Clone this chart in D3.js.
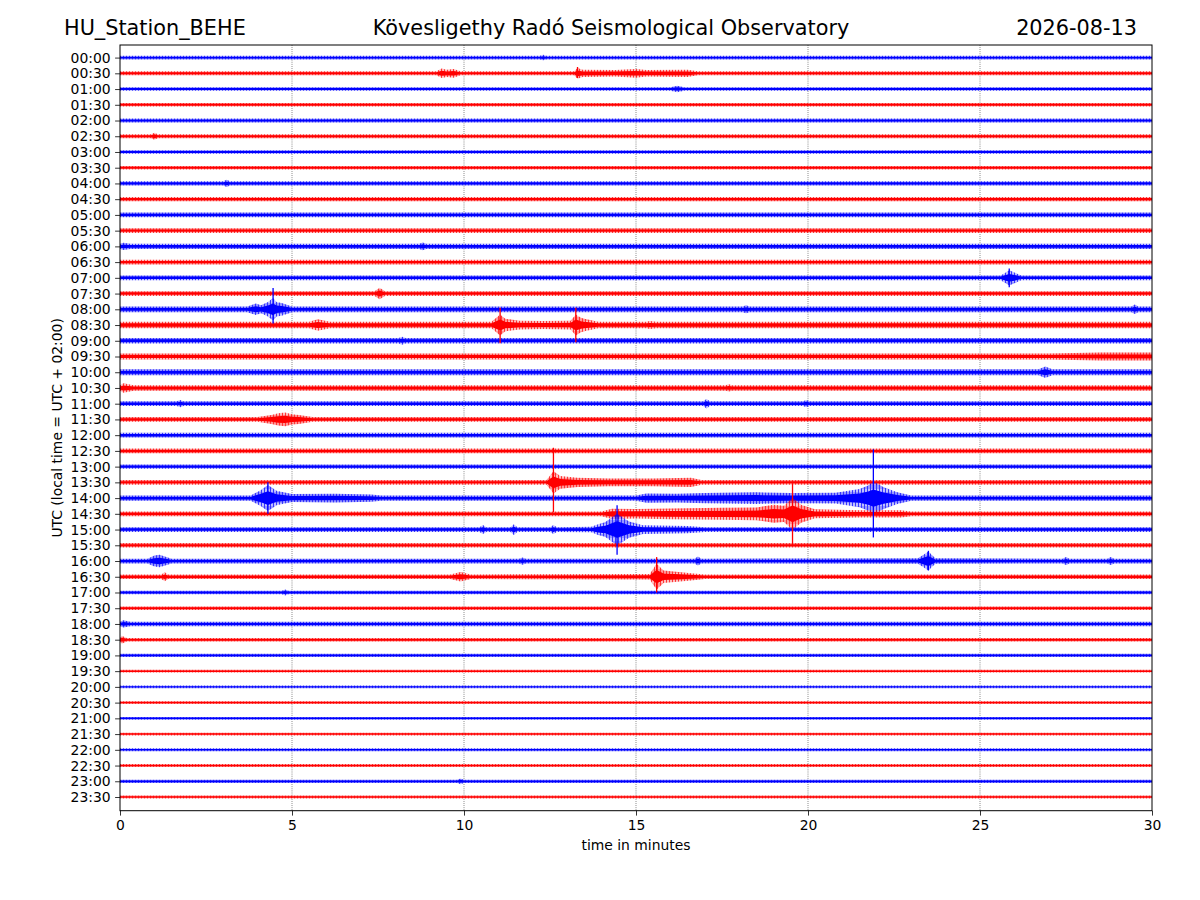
<!DOCTYPE html>
<html>
<head>
<meta charset="utf-8">
<script src="https://cdn.jsdelivr.net/npm/d3@7"></script>
<style>
  body { margin: 0; background: #fff; }
  svg { display: block; font-family: "DejaVu Sans", sans-serif; }
</style>
</head>
<body>
<div class="chart"></div>
<script>
// data
const rowLabels = [
  "00:00","00:30","01:00","01:30","02:00","02:30","03:00","03:30",
  "04:00","04:30","05:00","05:30","06:00","06:30","07:00","07:30",
  "08:00","08:30","09:00","09:30","10:00","10:30","11:00","11:30",
  "12:00","12:30","13:00","13:30","14:00","14:30","15:00","15:30",
  "16:00","16:30","17:00","17:30","18:00","18:30","19:00","19:30",
  "20:00","20:30","21:00","21:30","22:00","22:30","23:00","23:30"
];
const rowColors = ["#0000ff", "#ff0000"];
const xTicks = [0, 5, 10, 15, 20, 25, 30];

// background noise half-amplitude of each row (in row spacings)
const noiseLevel = [
  0.10, 0.11, 0.10, 0.10, 0.11, 0.11, 0.10, 0.10,
  0.12, 0.12, 0.13, 0.13, 0.15, 0.13, 0.13, 0.13,
  0.16, 0.18, 0.15, 0.16, 0.16, 0.15, 0.13, 0.13,
  0.13, 0.13, 0.12, 0.13, 0.15, 0.13, 0.13, 0.12,
  0.13, 0.13, 0.10, 0.10, 0.12, 0.10, 0.09, 0.08,
  0.07, 0.08, 0.08, 0.08, 0.08, 0.08, 0.09, 0.08
];

// envelope points of events: [row, minute, half-amplitude]
const events = [
  [0,12.2,.10],[0,12.3,.15],[0,12.4,.10],
  [1,9.2,.11],[1,9.35,.26],[1,9.5,.2],[1,9.7,.24],[1,9.9,.11],[1,13.2,.11],[1,13.3,.30],[1,13.45,.2],[1,14.4,.18],[1,15.0,.24],[1,15.3,.18],[1,16.5,.2],[1,16.8,.11],
  [2,16.0,.10],[2,16.2,.18],[2,16.4,.10],
  [5,0.9,.11],[5,1.0,.2],[5,1.1,.11],
  [8,3.0,.12],[8,3.1,.2],[8,3.2,.12],
  [12,0.1,.2],[12,0.3,.15],[12,8.7,.15],[12,8.8,.22],[12,8.9,.15],
  [14,25.6,.13],[14,25.75,.3],[14,25.85,.42],[14,26.0,.3],[14,26.2,.13],
  [15,7.4,.13],[15,7.55,.32],[15,7.7,.13],
  [16,3.7,.16],[16,3.95,.32],[16,4.1,.22],[16,4.3,.4],[16,4.45,.62],[16,4.55,.4],[16,4.7,.35],[16,5.0,.16],[16,18.1,.16],[16,18.2,.22],[16,18.3,.16],[16,29.4,.16],[16,29.5,.26],[16,29.6,.16],
  [17,5.5,.18],[17,5.75,.32],[17,6.1,.18],[17,10.8,.18],[17,11.05,.58],[17,11.2,.35],[17,11.6,.24],[17,12.3,.22],[17,13.1,.24],[17,13.25,.58],[17,13.4,.4],[17,13.5,.35],[17,13.9,.18],[17,15.3,.18],[17,15.4,.22],[17,15.6,.18],
  [18,8.1,.15],[18,8.2,.22],[18,8.3,.15],
  [19,27.0,.16],[19,28.5,.22],[19,30.0,.22],
  [20,26.7,.16],[20,26.9,.32],[20,27.1,.16],
  [21,0.1,.26],[21,0.4,.15],[21,17.6,.15],[21,17.7,.2],[21,17.8,.15],
  [22,1.65,.13],[22,1.75,.2],[22,1.85,.13],[22,16.95,.13],[22,17.05,.26],[22,17.15,.13],[22,19.85,.13],[22,19.95,.2],[22,20.05,.13],
  [23,4.0,.13],[23,4.4,.25],[23,4.6,.34],[23,4.8,.38],[23,5.0,.28],[23,5.2,.25],[23,5.6,.13],
  [27,12.4,.13],[27,12.6,.62],[27,12.8,.35],[27,13.3,.25],[27,14.2,.22],[27,15.5,.22],[27,16.6,.26],[27,16.9,.13],
  [28,3.8,.15],[28,4.1,.45],[28,4.3,.72],[28,4.55,.4],[28,5.0,.22],[28,6.25,.24],[28,7.3,.2],[28,7.6,.15],[28,15.0,.15],[28,15.3,.26],[28,16.2,.24],[28,17.0,.28],[28,18.5,.32],[28,19.5,.28],[28,20.8,.3],[28,21.5,.5],[28,21.75,.7],[28,21.9,.92],[28,22.2,.6],[28,22.6,.32],[28,23.0,.15],
  [29,14.0,.13],[29,14.3,.28],[29,15.0,.26],[29,16.0,.3],[29,17.5,.33],[29,18.5,.35],[29,19.0,.5],[29,19.3,.45],[29,19.55,.88],[29,19.8,.5],[29,20.2,.25],[29,21.5,.2],[29,22.7,.2],[29,23.0,.13],
  [30,10.45,.13],[30,10.55,.25],[30,10.65,.13],[30,11.35,.13],[30,11.45,.3],[30,11.55,.13],[30,12.5,.13],[30,12.6,.25],[30,12.7,.13],[30,13.7,.15],[30,13.9,.3],[30,14.1,.4],[30,14.45,.88],[30,14.8,.45],[30,15.2,.24],[30,16.5,.2],[30,17.0,.13],
  [32,0.8,.13],[32,1.0,.3],[32,1.15,.35],[32,1.5,.13],[32,11.6,.13],[32,11.7,.2],[32,11.8,.13],[32,16.7,.13],[32,16.8,.25],[32,16.9,.13],[32,23.2,.15],[32,23.5,.52],[32,23.7,.15],[32,27.4,.13],[32,27.5,.22],[32,27.6,.13],[32,28.7,.13],[32,28.8,.22],[32,28.9,.13],
  [33,1.2,.13],[33,1.3,.25],[33,1.4,.13],[33,9.6,.13],[33,9.9,.26],[33,10.2,.13],[33,15.4,.15],[33,15.6,.72],[33,15.8,.35],[33,16.6,.2],[33,17.0,.13],
  [34,4.7,.10],[34,4.8,.16],[34,4.9,.10],
  [36,0.1,.2],[36,0.3,.12],
  [37,0.05,.22],[37,0.2,.10],
  [46,9.8,.09],[46,9.9,.16],[46,10.0,.09]
];

// single sharp peaks: [row, minute, reach up, reach down] (row spacings)
const spikes = [
  [1,13.3,.4,.3],
  [14,25.85,.6,.6],
  [16,4.45,1.35,.9],
  [17,11.05,1.1,1.15],[17,13.25,1.1,1.1],
  [27,12.6,2.2,1.9],
  [28,4.3,1.0,1.0],[28,21.9,3.1,2.5],
  [29,19.55,1.95,2.0],
  [30,14.45,1.55,1.6],
  [32,23.5,.65,.6],
  [33,15.6,1.25,1.0]
];

// setup
const width = 1200;
const height = 900;
const margin = { top: 45, bottom: 89.3, left: 120, right: 48 };

const svg = d3.select('.chart')
  .append('svg')
  .attr('width', width)
  .attr('height', height)
  .attr('viewBox', `0 0 ${width} ${height}`);

const x = d3.scaleLinear()
  .domain([0, 30])
  .range([margin.left, width - margin.right]);

const y = d3.scaleLinear()
  .domain([-0.8, 47.87])
  .range([margin.top, height - margin.bottom]);

const defs = svg.append('defs');
defs.append('clipPath').attr('id', 'plot-clip')
  .append('rect')
  .attr('x', margin.left).attr('y', margin.top)
  .attr('width', x(30) - x(0)).attr('height', y(47.87) - y(-0.8));

// hatch patterns give the bands a wiggly trace texture
rowColors.forEach((c, i) => {
  const p = defs.append('pattern')
    .attr('id', `hatch${i}`)
    .attr('patternUnits', 'userSpaceOnUse')
    .attr('width', 3).attr('height', 7);
  p.append('rect').attr('width', 3).attr('height', 7).attr('fill', c).attr('opacity', 0.25);
  p.append('line').attr('x1', 0.5).attr('x2', 0.5).attr('y1', 0).attr('y2', 7)
    .attr('stroke', c).attr('stroke-width', 0.9).attr('opacity', 0.8);
  p.append('line').attr('x1', 2).attr('x2', 2).attr('y1', 2).attr('y2', 6)
    .attr('stroke', c).attr('stroke-width', 0.7).attr('opacity', 0.6);
});

// grid
svg.append('g')
  .selectAll('line')
  .data(xTicks.slice(1, -1))
  .join('line')
  .attr('x1', d => x(d)).attr('x2', d => x(d))
  .attr('y1', y(-0.8)).attr('y2', y(47.87))
  .attr('stroke', '#000')
  .attr('stroke-width', 0.8)
  .attr('stroke-dasharray', '0.8,1.3')
  .attr('opacity', 0.7);

// envelopes
const byRow = d3.group(events, d => d[0]);
const rows = rowLabels.map((label, i) => {
  const pts = (byRow.get(i) || []).map(d => [d[1], d[2]]).sort((a, b) => a[0] - b[0]);
  const env = [[0, noiseLevel[i]], ...pts];
  if (env[env.length - 1][0] < 30) env.push([30, noiseLevel[i]]);
  return { i, env };
});

const traces = svg.append('g').attr('clip-path', 'url(#plot-clip)');

traces.selectAll('g.trace')
  .data(rows)
  .join('g')
  .attr('class', 'trace')
  .each(function (r) {
    const g = d3.select(this);
    const color = rowColors[r.i % 2];
    [[1.15, `url(#hatch${r.i % 2})`], [0.6, color]].forEach(([k, fill]) => {
      g.append('path')
        .datum(r.env)
        .attr('fill', fill)
        .attr('d', d3.area()
          .x(d => x(d[0]))
          .y0(d => y(r.i + d[1] * k))
          .y1(d => y(r.i - d[1] * k)));
    });
  });

traces.selectAll('line.spike')
  .data(spikes)
  .join('line')
  .attr('class', 'spike')
  .attr('x1', d => x(d[1])).attr('x2', d => x(d[1]))
  .attr('y1', d => y(d[0] - d[2])).attr('y2', d => y(d[0] + d[3]))
  .attr('stroke', d => rowColors[d[0] % 2])
  .attr('stroke-width', 1.3);

// axes
const xAxis = g => {
  g.attr('transform', `translate(0,${y(47.87)})`)
  .call(d3.axisBottom(x).tickValues(xTicks).tickSize(4.9).tickPadding(4.5))
  .attr('font-size', '13.9px')
  .attr('font-family', '"DejaVu Sans", sans-serif')
  .call(g => g.select('.domain').remove());
};

const yAxis = g => {
  g.attr('transform', `translate(${margin.left},0)`)
  .call(d3.axisLeft(y).tickValues(d3.range(rowLabels.length)).tickFormat(i => rowLabels[i]).tickSize(4.9).tickPadding(4.5))
  .attr('font-size', '13.9px')
  .attr('font-family', '"DejaVu Sans", sans-serif')
  .call(g => g.select('.domain').remove());
};

svg.append('g').call(xAxis);
svg.append('g').call(yAxis);
svg.selectAll('.tick text').attr('fill', '#000');
svg.selectAll('.tick line').attr('stroke', '#000').attr('stroke-width', 0.8);

svg.append('rect')
  .attr('x', x(0)).attr('y', y(-0.8))
  .attr('width', x(30) - x(0)).attr('height', y(47.87) - y(-0.8))
  .attr('fill', 'none')
  .attr('stroke', '#000')
  .attr('stroke-width', 1);

// labels
svg.append('text')
  .attr('x', (x(0) + x(30)) / 2).attr('y', 850)
  .attr('text-anchor', 'middle')
  .attr('font-size', '13.9px')
  .text('time in minutes');

svg.append('text')
  .attr('transform', `translate(62,${(y(-0.8) + y(47.87)) / 2}) rotate(-90)`)
  .attr('text-anchor', 'middle')
  .attr('font-size', '13.9px')
  .text('UTC (local time = UTC + 02:00)');

// titles
svg.append('text').attr('x', 64).attr('y', 35).attr('font-size', '20.8px').text('HU_Station_BEHE');
svg.append('text').attr('x', 611).attr('y', 35).attr('font-size', '20.8px').attr('text-anchor', 'middle')
  .text('Kövesligethy Radó Seismological Observatory');
svg.append('text').attr('x', 1137).attr('y', 35).attr('font-size', '20.8px').attr('text-anchor', 'end').text('2026-08-13');
</script>
</body>
</html>
